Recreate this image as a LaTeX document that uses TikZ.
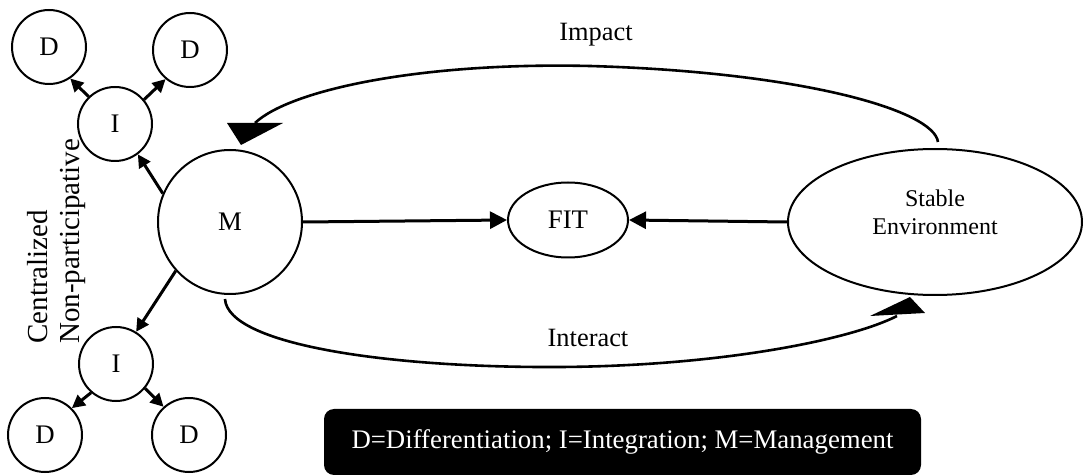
\documentclass[tikz,border=0pt]{standalone}
\usepackage{fontspec}
\setmainfont{Liberation Serif}
\usetikzlibrary{arrows.meta,shapes.geometric}
\tikzset{
    unit/.style={draw, circle, line width=1pt, inner sep=0pt, minimum size=37pt, font=\fontsize{13.4}{15}\selectfont},
    oval/.style={draw, ellipse, line width=1pt, inner sep=0pt, align=center},
    link/.style={line width=1.5pt, -{Triangle[length=6.5pt,width=6.5pt]}},
    flow/.style={line width=1.5pt, -{Triangle[length=8.5pt,width=8.5pt]}},
    loop/.style={line width=1.3pt},
    lbl/.style={font=\fontsize{13.2}{15}\selectfont}
}
\begin{document}
\begin{tikzpicture}[x=0.5pt,y=-0.5pt]
    \useasboundingbox (0,0) rectangle (1084,476);

    \node[unit, minimum size=72pt] (m) at (230,222) {M};
    \node[unit] (i1) at (115,124) {I};
    \node[unit] (i2) at (116,364) {I};
    \node[unit] (d1) at (49,47) {D};
    \node[unit] (d2) at (190,50) {D};
    \node[unit] (d3) at (45,435) {D};
    \node[unit] (d4) at (189,435) {D};
    \node[oval, minimum width=60pt, minimum height=37.5pt, font=\fontsize{13.4}{15}\selectfont] (fit) at (568,220) {FIT};
    \node[oval, minimum width=147pt, minimum height=73pt, font=\fontsize{12}{14}\selectfont] (env) at (935,222) {Stable\\Environment\\[-4pt]};

    % hierarchy
    \draw[link] (m.157) -- (i1.-53);
    \draw[link] (m.222) -- (i2.58);
    \draw[link] (i1.134) -- (d1.-56);
    \draw[link] (i1.40) -- (d2.230);
    \draw[link] (i2.229) -- (d3.45);
    \draw[link] (i2.-40) -- (d4.132);

    \draw[flow] (m.east) -- (fit.west);
    \draw[flow] (env.west) -- (fit.east);

    % impact and interact loops
    \coordinate (impactend) at (255,123);
    \coordinate (interactend) at (897,316);
    \draw[loop] ([xshift=1.5pt,yshift=3pt]env.north) .. controls (934,110) and (800,72) .. (590,66)
        .. controls (420,62) and (290,90) .. (impactend);
    \fill (227,123) -- (283,123) -- (241,145) -- cycle;
    \draw[loop] ([xshift=-2.5pt,yshift=-2pt]m.south) .. controls (228,345) and (390,368) .. (560,367)
        .. controls (720,366) and (850,340) .. (interactend);
    \fill (870,316) -- (925,313) -- (910,297) -- cycle;

    \node[lbl] (impact) at (596,35) {Impact};
    \node[lbl] (interact) at (588,338) {Interact};

    \node[rotate=90, anchor=north west, inner sep=0pt, align=left, font=\fontsize{14.5}{16}\selectfont] (style) at (27,344) {Centralized\\Non-participative};

    \node[fill=black, text=white, rounded corners=5pt, minimum width=298.5pt, minimum height=33pt, font=\fontsize{13.4}{15}\selectfont] (key) at (622.5,442) {D=Differentiation; I=Integration; M=Management};
\end{tikzpicture}
\end{document}
